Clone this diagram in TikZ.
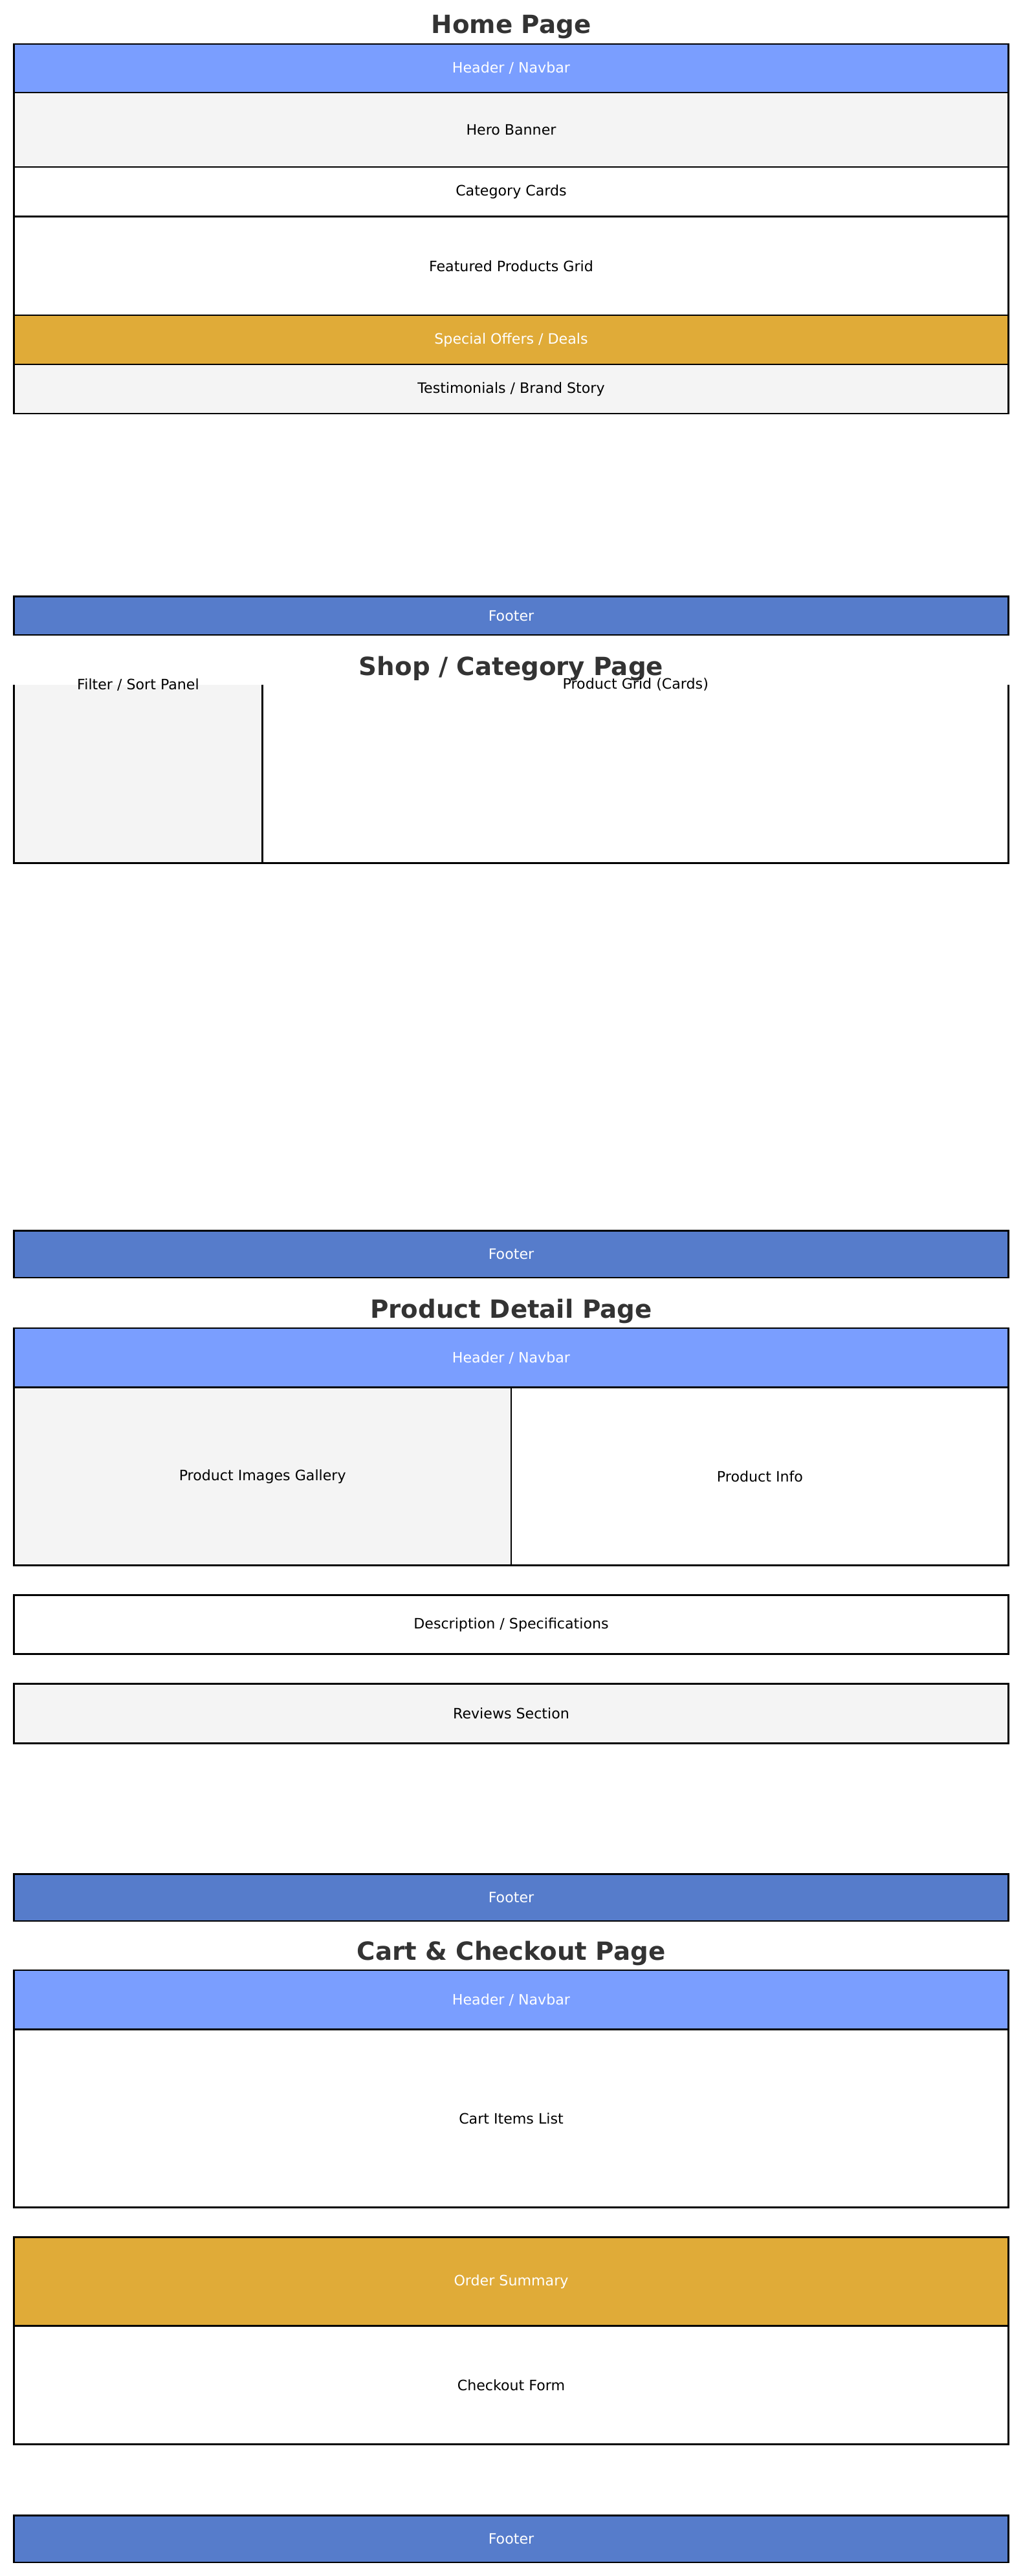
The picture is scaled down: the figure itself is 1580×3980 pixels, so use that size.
\documentclass[tikz,border=0pt]{standalone}
\usepackage{fontspec}
\setmainfont{DejaVu Sans}
\newlength\pxu
\setlength\pxu{0.127mm}
\definecolor{navblue}{HTML}{7A9EFF}
\definecolor{footblue}{HTML}{567CCB}
\definecolor{dealgold}{HTML}{E0AB38}
\definecolor{panelgray}{HTML}{F4F4F4}
\definecolor{titlegray}{HTML}{333333}
\tikzset{
  band/.style={draw=black, line width=2.8\pxu, inner sep=0pt, outer sep=0pt,
    minimum height=#1\pxu, font=\fontsize{8}{9.6}\selectfont, text=black},
  fullw/.style={minimum width=1537.5\pxu},
  halfw/.style={minimum width=768.75\pxu},
  light/.style={text=white},
  pagetitle/.style={font=\fontsize{14}{16.8}\selectfont\bfseries, text=titlegray, inner sep=0pt},
  lbl/.style={font=\fontsize{8}{9.6}\selectfont, text=black, inner sep=0pt},
  edge/.style={draw=black, line width=2.8\pxu},
}
\begin{document}
\begin{tikzpicture}[x=0.127mm, y=-0.127mm]
\useasboundingbox (0,0) rectangle (1580,3980);

% ---------- Home Page ----------
\node[pagetitle] (homeT) at (790,42) {Home Page};
\node[band=75, fullw, fill=navblue, light] (homeHdr) at (790,105.5) {Header / Navbar};
\node[band=115, fullw, fill=panelgray] (homeHero) at (790,200.5) {Hero Banner};
\node[band=76.5, fullw, fill=white] (homeCat) at (790,296.25) {Category Cards};
\node[band=152.5, fullw, fill=white] (homeFeat) at (790,410.75) {Featured Products Grid};
\node[band=76, fullw, fill=dealgold, light] (homeDeal) at (790,525) {Special Offers / Deals};
\node[band=76, fullw, fill=panelgray] (homeTest) at (790,601) {Testimonials / Brand Story};
\node[band=59.5, fullw, fill=footblue, light] (homeFoot) at (790,951.25) {Footer};

% ---------- Shop / Category Page ----------
\node[pagetitle] (shopT) at (790,1033) {Shop / Category Page};
\fill[panelgray] (21.3,1058) rectangle (405.7,1333.5);
\draw[edge] (21.3,1058) -- (21.3,1333.5) -- (1558.8,1333.5) -- (1558.8,1058);
\draw[edge] (405.7,1058) -- (405.7,1333.5);
\node[lbl] (shopFilter) at (213.5,1058) {Filter / Sort Panel};
\node[lbl] (shopGrid) at (982.25,1058) {Product Grid (Cards)};
\node[band=72.5, fullw, fill=footblue, light] (shopFoot) at (790,1937.75) {Footer};

% ---------- Product Detail Page ----------
\node[pagetitle] (prodT) at (790,2026) {Product Detail Page};
\node[band=91.6, fullw, fill=navblue, light] (prodHdr) at (790,2097.8) {Header / Navbar};
\node[band=274.8, halfw, fill=panelgray] (prodGal) at (405.68,2281) {Product Images Gallery};
\node[band=274.8, halfw, fill=white] (prodInfo) at (1174.43,2281) {Product Info};
\node[band=91.6, fullw, fill=white] (prodDesc) at (790,2510) {Description / Specifications};
\node[band=91.6, fullw, fill=panelgray] (prodRev) at (790,2647.4) {Reviews Section};
\node[band=72.7, fullw, fill=footblue, light] (prodFoot) at (790,2931.65) {Footer};

% ---------- Cart & Checkout Page ----------
\node[pagetitle] (cartT) at (790,3018) {Cart \& Checkout Page};
\node[band=91.6, fullw, fill=navblue, light] (cartHdr) at (790,3089.8) {Header / Navbar};
\node[band=274.8, fullw, fill=white] (cartItems) at (790,3273) {Cart Items List};
\node[band=137.4, fullw, fill=dealgold, light] (cartSum) at (790,3524.9) {Order Summary};
\node[band=183.2, fullw, fill=white] (cartForm) at (790,3685.2) {Checkout Form};
\node[band=72.5, fullw, fill=footblue, light] (cartFoot) at (790,3922.75) {Footer};
\end{tikzpicture}
\end{document}
